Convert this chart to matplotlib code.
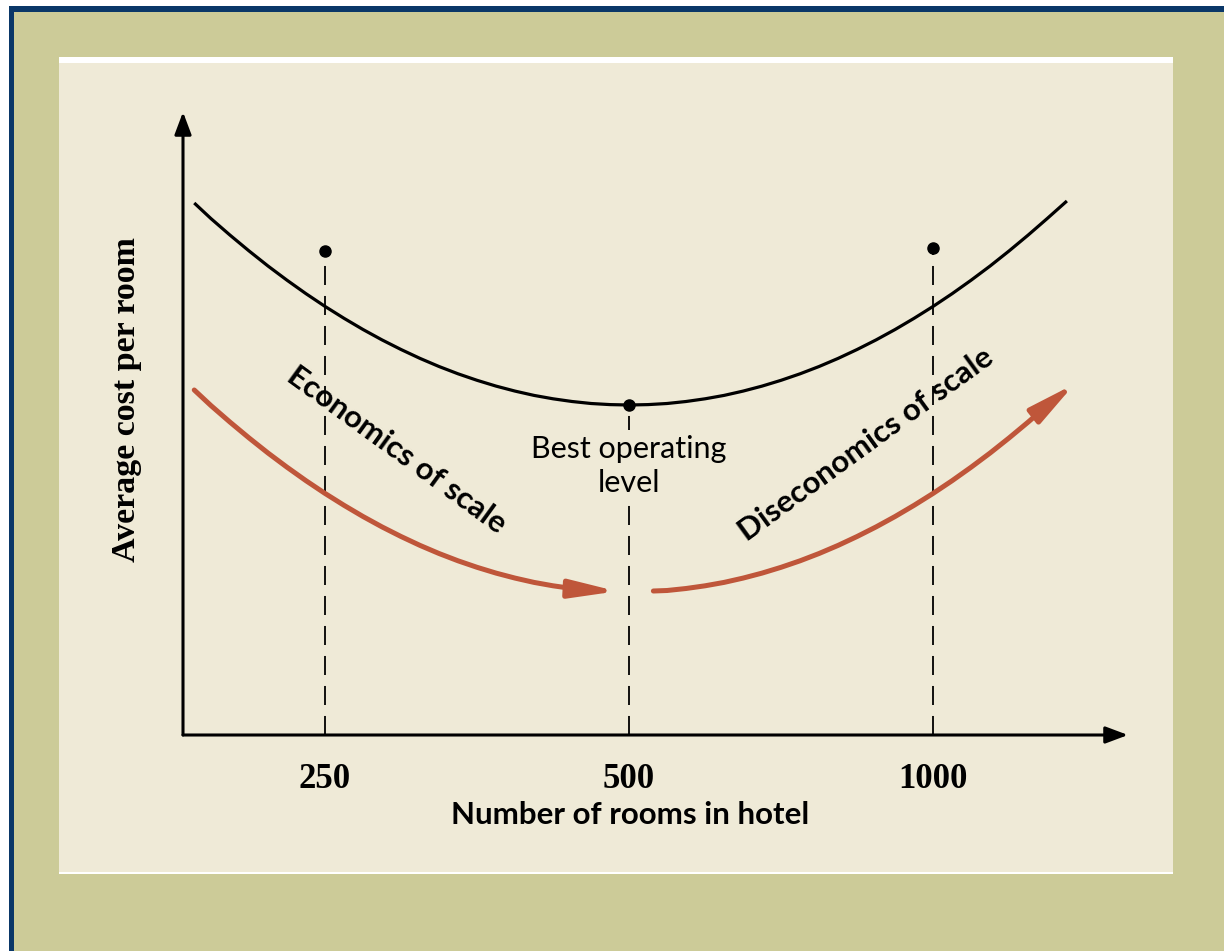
import matplotlib
matplotlib.use("Agg")
import matplotlib.pyplot as plt
from matplotlib.patches import Rectangle, FancyArrowPatch
from matplotlib.path import Path

plt.rcParams["lines.scale_dashes"] = False

# ---------------- data ----------------
tick_positions = [1, 2, 3]
tick_labels = ["250", "500", "1000"]

# average cost curve (arbitrary cost units)
cost_x = [0.57, 0.625, 0.6875, 0.75, 0.8125, 0.875, 0.9375, 1.0, 1.0625, 1.125, 1.1875,
          1.25, 1.3125, 1.375, 1.4375, 1.5, 1.5625, 1.625, 1.6875, 1.75, 1.8125, 1.875,
          1.9375, 2.0, 2.0625, 2.125, 2.1875, 2.25, 2.3125, 2.375, 2.4375, 2.5, 2.5625,
          2.625, 2.6875, 2.75, 2.8125, 2.875, 2.9375, 3.0, 3.0625, 3.125, 3.1875, 3.25,
          3.3125, 3.375, 3.44]
cost_y = [5.320, 5.164, 4.999, 4.841, 4.690, 4.548, 4.413, 4.286, 4.167, 4.055, 3.951,
          3.855, 3.766, 3.685, 3.612, 3.547, 3.489, 3.439, 3.396, 3.362, 3.335, 3.315,
          3.304, 3.300, 3.304, 3.315, 3.335, 3.362, 3.396, 3.439, 3.489, 3.547, 3.612,
          3.685, 3.766, 3.855, 3.951, 4.055, 4.167, 4.286, 4.413, 4.548, 4.690, 4.841,
          4.999, 5.164, 5.340]

# marked points (dots with dashed drop lines)
dot_x = [1, 2, 3]
dot_y = [4.84, 3.30, 4.87]

# red arrows
econ_x = [0.57, 0.625, 0.6875, 0.75, 0.8125, 0.875, 0.9375, 1.0, 1.0625, 1.125, 1.1875,
          1.25, 1.3125, 1.375, 1.4375, 1.5, 1.5625, 1.625, 1.6875, 1.75, 1.8125, 1.875,
          1.96]
econ_y = [3.450, 3.294, 3.129, 2.971, 2.820, 2.678, 2.543, 2.416, 2.297, 2.185, 2.081,
          1.985, 1.896, 1.815, 1.742, 1.677, 1.619, 1.569, 1.526, 1.492, 1.465, 1.450,
          1.437]
dis_x = [2.08, 2.125, 2.1875, 2.25, 2.3125, 2.375, 2.4375, 2.5, 2.5625, 2.625, 2.6875,
         2.75, 2.8125, 2.875, 2.9375, 3.0, 3.0625, 3.125, 3.1875, 3.25, 3.3125, 3.375,
         3.465]
dis_y = [1.440, 1.445, 1.465, 1.492, 1.526, 1.569, 1.619, 1.677, 1.742, 1.815, 1.896,
         1.985, 2.081, 2.185, 2.297, 2.416, 2.543, 2.678, 2.820, 2.971, 3.129, 3.294,
         3.510]

# ---------------- style ----------------
BLUE = "#0A3768"
OLIVE = "#CCCB98"
CREAM = "#EFEAD7"
RED = "#BF563A"
HUM = ["Lato", "DejaVu Sans"]
SERIF = ["Liberation Serif", "DejaVu Serif"]

W, H = 1224, 951
fig = plt.figure(figsize=(W / 100, H / 100), dpi=100, facecolor="white")


def px_rect(x0, y0, x1, y1, color):
    fig.add_artist(Rectangle((x0 / W, 1 - y1 / H), (x1 - x0) / W, (y1 - y0) / H,
                             transform=fig.transFigure, facecolor=color,
                             edgecolor="none", zorder=0))


px_rect(9, 6, 1224, 951, BLUE)
px_rect(14, 12, 1224, 951, OLIVE)
px_rect(59, 57, 1173, 874, "white")
px_rect(59, 63, 1173, 872, CREAM)

ax = fig.add_axes([183 / W, 1 - 735 / H, (1128 - 183) / W, (735 - 112) / H])
ax.patch.set_visible(False)
x0, x1 = 0.533, 3.641
y0, y1 = 0.0, 6.23
ax.set_xlim(x0, x1)
ax.set_ylim(y0, y1)
for s in ax.spines.values():
    s.set_visible(False)
ax.set_yticks([])
ax.set_xticks(tick_positions)
ax.set_xticklabels(tick_labels, fontsize=25, fontweight="bold", family=SERIF)
ax.tick_params(axis="x", length=0, pad=20)

# axes with arrows
arrow_kw = dict(arrowstyle="-|>,head_length=0.8,head_width=0.3", mutation_scale=17,
                lw=2.2, color="black", shrinkA=0, shrinkB=0)
ax.annotate("", xy=(x1, y0), xytext=(x0, y0), arrowprops=arrow_kw, annotation_clip=False)
ax.annotate("", xy=(x0, y1), xytext=(x0, y0), arrowprops=arrow_kw, annotation_clip=False)

# cost curve
ax.plot(cost_x, cost_y, color="black", lw=2.3, solid_capstyle="butt",
        solid_joinstyle="round", zorder=4)

# dashed drop lines and dots
for xv, yv in zip(dot_x, dot_y):
    ax.plot([xv, xv], [y0, yv], color="black", lw=1.3, linestyle=(0, (13.7, 7.9)), zorder=2)
ax.plot(dot_x, dot_y, "o", color="black", ms=8, zorder=6)

# red arrows
for xs, ys in ((econ_x, econ_y), (dis_x, dis_y)):
    arr = FancyArrowPatch(path=Path(list(zip(xs, ys))),
                          arrowstyle="-|>,head_length=2.8,head_width=0.55",
                          mutation_scale=10, lw=3.6, color=RED, joinstyle="round",
                          transform=ax.transData, zorder=3)
    ax.add_patch(arr)

# annotations
ax.text(2.0, 2.69, "Best operating\nlevel", ha="center", va="center", fontsize=22,
        family=HUM, linespacing=1.3, zorder=5,
        bbox=dict(boxstyle="square,pad=0.15", fc=CREAM, ec="none"))
ax.text(1.234, 2.85, "Economics of scale", ha="center", va="center", rotation=-36,
        fontsize=22.5, fontweight="bold", family=HUM, zorder=5)
ax.text(2.78, 2.91, "Diseconomics of scale", ha="center", va="center", rotation=36,
        fontsize=22.5, fontweight="bold", family=HUM, zorder=5)

fig.text(630 / W, 1 - 815 / H, "Number of rooms in hotel", ha="center", va="center",
         fontsize=22.5, fontweight="bold", family=HUM)
fig.text(127 / W, 1 - 400 / H, "Average cost per room", ha="center", va="center",
         rotation=90, fontsize=24.5, fontweight="bold", family=SERIF)

fig.savefig("out.png", dpi=100, facecolor=fig.get_facecolor())
